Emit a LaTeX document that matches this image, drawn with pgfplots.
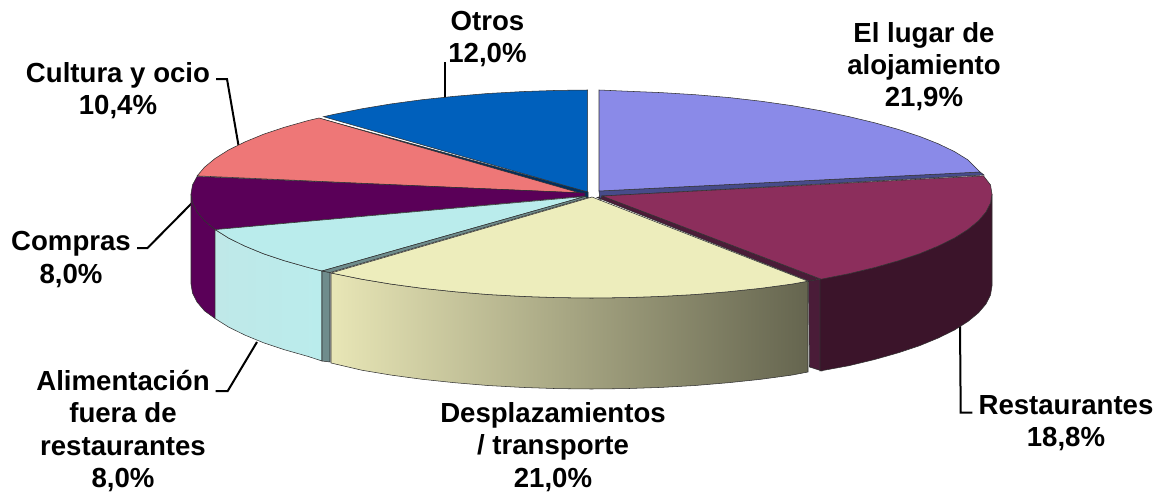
\documentclass[border=0pt]{standalone}
\usepackage{fontspec}
\setmainfont{Liberation Sans}
\usepackage{pgfplots}
\pgfplotsset{compat=1.18}
\definecolor{cBlue}{HTML}{0060BC}
\definecolor{cBlueD}{HTML}{002F5E}
\definecolor{cPink}{HTML}{EE7777}
\definecolor{cPurple}{HTML}{5A0058}
\definecolor{cCyan}{HTML}{BAECEC}
\definecolor{cCyanL}{HTML}{BFE8E8}
\definecolor{cTeal}{HTML}{6F8C8C}
\definecolor{cCream}{HTML}{EDEDBC}
\definecolor{cCreamL}{HTML}{E8E6B6}
\definecolor{cCreamM}{HTML}{AEAD8B}
\definecolor{cCreamR}{HTML}{65654F}
\definecolor{cMaroon}{HTML}{8C2E5C}
\definecolor{cMaroonD}{HTML}{3B142A}
\definecolor{cMaroonM}{HTML}{4A1C38}
\definecolor{cPeri}{HTML}{8A8AE8}
\definecolor{cPeriD}{HTML}{474B8A}
\definecolor{cEdge}{HTML}{303030}
\tikzset{
    lbl/.style={font=\fontsize{20.7}{24.2}\selectfont\bfseries, align=center, anchor=center, text=black, inner sep=0pt},
    lead/.style={draw=black, line width=1.5pt, fill=none},
}
\begin{document}
\begin{tikzpicture}
\begin{axis}[
    scale only axis, width=870.75pt, height=369.75pt,
    xmin=0, xmax=1161, ymin=0, ymax=493, y dir=reverse,
    hide axis, clip=false,
    every axis plot/.append style={line width=0.4pt, draw=cEdge},
]
\path[use as bounding box] (axis cs:0,0) rectangle (axis cs:1161,493);
% leader lines
\addplot[lead] coordinates {(444.6,62) (444.6,98)};
\addplot[lead] coordinates {(216,79) (227,79) (238.6,146)};
\addplot[lead] coordinates {(137,248) (147.5,248) (192,203)};
\addplot[lead] coordinates {(215.5,391) (227.7,391) (257,342)};
\addplot[lead] coordinates {(960,324) (960.7,412.7) (972.3,412.7)};
% Otros
\addplot[fill=cBlueD] coordinates {(320,118.5) (588,192) (588,198) (578,197)} -- cycle;
\addplot[fill=cBlue] coordinates {(323.5,116.7) (334.1,114.3) (361.8,108.8) (391.2,103.9) (422.2,99.7) (454.5,96.3) (487.8,93.5) (522,91.6) (556.6,90.4) (587.7,90) (587.7,192)} -- cycle;
% Cultura y ocio
\addplot[fill=cPink] coordinates {(197.1,175.9) (204.6,167.1) (215.2,158.4) (228.5,150) (244.7,142) (263.4,134.3) (284.7,127.2) (308.3,120.5) (319,118) (580,193)} -- cycle;
% Compras
\addplot[fill=cPurple] coordinates {(191,194) (192.5,203.1) (197.1,212.1) (204.6,220.9) (215.2,229.6) (215.2,318.6) (204.6,310.9) (197.1,302.1) (192.5,293.1) (191,284)} -- cycle;
\addplot[fill=cPurple] coordinates {(197.1,176.5) (192.5,184.9) (191,194) (192.5,203.1) (197.1,212.1) (204.6,220.9) (215.2,229.6) (585,196) (585,193)} -- cycle;
% Alimentacion fuera de restaurantes
\addplot[left color=cCyanL, right color=cCyan] coordinates {(215.2,229.6) (228.5,238) (244.7,246) (263.4,253.7) (284.7,260.8) (308.3,267.5) (322,271) (322,361) (308.3,356.5) (284.7,349.8) (263.4,342.7) (244.7,335) (228.5,327) (215.2,318.6)} -- cycle;
\addplot[fill=cCyan] coordinates {(215.2,229.6) (228.5,238) (244.7,246) (263.4,253.7) (284.7,260.8) (308.3,267.5) (322,271) (585,196.5)} -- cycle;
\addplot[fill=cTeal] coordinates {(322,271) (330,272.5) (330,362) (322,361)} -- cycle;
\addplot[fill=cTeal] coordinates {(322,271) (330,272.5) (588,197.5) (585,196.5)} -- cycle;
% Desplazamientos / transporte
\addplot[left color=cCreamL, middle color=cCreamM, right color=cCreamR] coordinates {(331,273) (361.8,279.2) (391.2,284.1) (422.2,288.3) (454.5,291.7) (487.8,294.5) (522,296.4) (556.6,297.6) (591.5,298) (626.4,297.6) (661,296.4) (695.2,294.5) (728.5,291.7) (760.8,288.3) (791.8,284.1) (808,281.2) (808,372) (791.8,375.1) (760.8,379.3) (728.5,382.7) (695.2,385.5) (661,387.4) (626.4,388.6) (591.5,389) (556.6,388.6) (522,387.4) (487.8,385.5) (454.5,382.7) (422.2,379.3) (391.2,375.1) (361.8,370.2) (331,363)} -- cycle;
\addplot[fill=cCream] coordinates {(331,273) (361.8,279.2) (391.2,284.1) (422.2,288.3) (454.5,291.7) (487.8,294.5) (522,296.4) (556.6,297.6) (591.5,298) (626.4,297.6) (661,296.4) (695.2,294.5) (728.5,291.7) (760.8,288.3) (791.8,284.1) (808,281.2) (592,197)} -- cycle;
% Restaurantes
\addplot[fill=cMaroonM] coordinates {(808.5,281) (822,279) (822,371) (809.5,367)} -- cycle;
\addplot[fill=cMaroonM] coordinates {(597,197.5) (602,196) (820,279) (809,281)} -- cycle;
\addplot[fill=cMaroonD] coordinates {(820,279.2) (848.9,273.7) (874.7,267.5) (898.3,260.8) (919.6,253.7) (938.3,246) (954.5,238) (967.8,229.6) (978.4,220.9) (985.9,212.1) (990.5,203.1) (992,194) (992,286) (990.5,295.1) (985.9,304.1) (978.4,312.9) (967.8,321.6) (954.5,330) (938.3,338) (919.6,345.7) (898.3,352.8) (874.7,359.5) (848.9,365.7) (820,371)} -- cycle;
% El lugar de alojamiento
\addplot[fill=cPeriD] coordinates {(599,191) (980,172) (984,175) (602,196) (600,200)} -- cycle;
\addplot[fill=cPeri] coordinates {(599,90) (626.4,91.2) (661,92.6) (695.2,94.7) (728.5,97.5) (760.8,101.2) (791.8,105.6) (821.2,110.8) (848.9,116.6) (874.7,122.8) (898.3,129.4) (919.6,136.4) (938.3,143.8) (954.5,151.6) (967.8,159.8) (980,172) (599,191)} -- cycle;
\addplot[fill=cMaroon] coordinates {(602,196) (983.5,175.9) (990.5,184.9) (992,194) (990.5,203.1) (985.9,212.1) (978.4,220.9) (967.8,229.6) (954.5,238) (938.3,246) (919.6,253.7) (898.3,260.8) (874.7,267.5) (848.9,273.7) (821.2,279.2)} -- cycle;
% labels
\node[lbl] at (axis cs:487.5,39) {Otros\\12,0\%};
\node[lbl] at (axis cs:924,66.5) {El lugar de\\alojamiento\\21,9\%};
\node[lbl] at (axis cs:118,90.5) {Cultura y ocio\\10,4\%};
\node[lbl] at (axis cs:71,259.5) {Compras\\8,0\%};
\node[lbl] at (axis cs:123,431) {Alimentación\\fuera de\\restaurantes\\8,0\%};
\node[lbl] at (axis cs:553,447) {Desplazamientos\\/ transporte\\21,0\%};
\node[lbl] at (axis cs:1066,423) {Restaurantes\\18,8\%};
\end{axis}
\end{tikzpicture}
\end{document}
